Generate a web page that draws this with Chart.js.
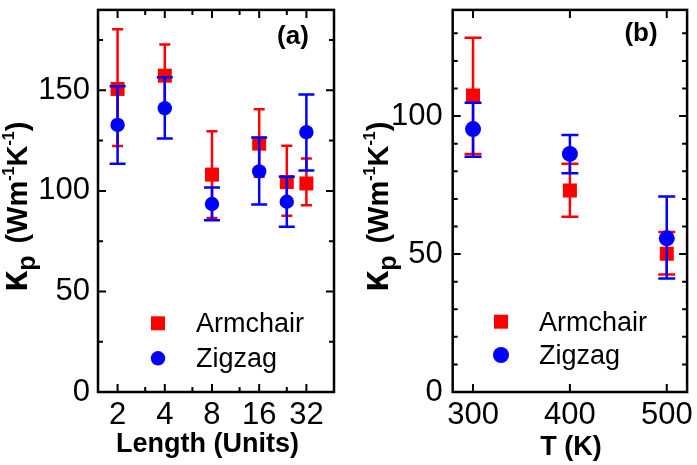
<!DOCTYPE html>
<html>
<head>
<meta charset="utf-8">
<script src="https://cdn.jsdelivr.net/npm/chart.js@4.4.1/dist/chart.umd.min.js"></script>
<style>
  body { margin: 0; background: #fff; }
  #wrap { position: relative; width: 697px; height: 465px; }
  canvas { position: absolute; top: 0; }
</style>
</head>
<body>
<div id="wrap">
  <canvas id="chart-a" style="left:0;width:345px;height:465px"></canvas>
  <canvas id="chart-b" style="left:345px;width:352px;height:465px"></canvas>
</div>
<script>
'use strict';

// ******* DATA (a) : vs length ********
let lengths = [2, 4, 8, 16, 24, 32];
let armchairA = [150.7, 157.3, 108.1, 123.5, 104.4, 103.7];
let armchairAUp = [180.4, 172.8, 129.7, 140.6, 122.4, 116.1];
let armchairALow = [122.3, 142.0, 86.5, 107.0, 87.7, 92.9];
let zigzagA = [132.8, 141.1, 93.5, 109.7, 94.6, 129.2];
let zigzagAUp = [152.0, 156.5, 101.7, 126.5, 107.0, 147.9];
let zigzagALow = [113.5, 126.0, 85.4, 93.2, 82.2, 110.2];

let lengthTicks = [2, 3, 4, 6, 8, 12, 16, 24, 32];
let lengthLabels = [2, 4, 8, 16, 32];
let kappaTicksA = [0, 25, 50, 75, 100, 125, 150, 175];

// ******* DATA (b) : vs temperature ********
let temps = [300, 400, 500];
let armchairB = [107.5, 73.0, 50.1];
let armchairBUp = [128.4, 82.7, 58.0];
let armchairBLow = [86.3, 63.5, 42.6];
let zigzagB = [95.3, 86.3, 55.7];
let zigzagBUp = [104.8, 93.2, 70.9];
let zigzagBLow = [85.3, 79.3, 41.1];

let tempTicks = [300, 400, 500];
let kappaTicksB = [0, 10, 20, 30, 40, 50, 60, 70, 80, 90, 100, 110, 120, 130];

let seriesNames = ['Armchair', 'Zigzag'];

const FONT = '"Liberation Sans", Arial, sans-serif';
const RED = '#ff0000';
const BLUE = '#0000ff';

// ****** PLUGIN: error bars, frame, inward ticks, titles, legend ******
const panelDecor = {
  id: 'panelDecor',
  beforeDatasetDraw(chart, args) {
    let ds = chart.data.datasets[args.index];
    let ctx = chart.ctx;
    let y = chart.scales.y;
    ctx.save();
    ctx.strokeStyle = ds.borderColor;
    ctx.lineWidth = 2.5;
    args.meta.data.forEach((pt, i) => {
      let top = y.getPixelForValue(ds.errUp[i]);
      let bot = y.getPixelForValue(ds.errLow[i]);
      let half = ds.capWidth / 2;
      ctx.beginPath();
      ctx.moveTo(pt.x, top); ctx.lineTo(pt.x, bot);
      ctx.moveTo(pt.x - half, top); ctx.lineTo(pt.x + half, top);
      ctx.moveTo(pt.x - half, bot); ctx.lineTo(pt.x + half, bot);
      ctx.stroke();
    });
    ctx.restore();
  },
  afterDraw(chart, args, opts) {
    let ctx = chart.ctx;
    let area = chart.chartArea;
    let xs = chart.scales.x;
    let ys = chart.scales.y;
    ctx.save();
    ctx.strokeStyle = '#000';
    ctx.lineWidth = 2.5;
    ctx.strokeRect(area.left, area.top, area.right - area.left, area.bottom - area.top);

    // inward ticks on all four sides
    ctx.lineWidth = 2;
    ctx.beginPath();
    xs.ticks.forEach(t => {
      let px = xs.getPixelForValue(t.value);
      let len = (t.label !== '') ? 8 : 5;
      ctx.moveTo(px, area.bottom); ctx.lineTo(px, area.bottom - len);
      ctx.moveTo(px, area.top); ctx.lineTo(px, area.top + len);
    });
    ys.ticks.forEach(t => {
      let py = ys.getPixelForValue(t.value);
      let len = (t.label !== '') ? 8 : 5;
      ctx.moveTo(area.left, py); ctx.lineTo(area.left + len, py);
      ctx.moveTo(area.right, py); ctx.lineTo(area.right - len, py);
    });
    ctx.stroke();

    ctx.fillStyle = '#000';
    // y title with sub / superscripts
    ctx.save();
    ctx.translate(opts.yTitleX, opts.yTitleY);
    ctx.rotate(-Math.PI / 2);
    ctx.textBaseline = 'alphabetic';
    ctx.textAlign = 'left';
    let pieces = [
      ['κ', 38, 0, 0], ['p', 25, 8, 12], ['(Wm', 29, 0, 0], ['-1', 16, -13, 0],
      ['K', 29, 0, 0], ['-1', 16, -13, 0], [')', 29, 0, 0]
    ];
    let cx = 0;
    pieces.forEach(p => {
      ctx.font = 'bold ' + p[1] + 'px ' + FONT;
      ctx.fillText(p[0], cx, p[2]);
      cx += ctx.measureText(p[0]).width + p[3];
    });
    ctx.restore();

    // x title
    ctx.font = 'bold 27px ' + FONT;
    ctx.textAlign = 'center';
    ctx.textBaseline = 'alphabetic';
    ctx.fillText(opts.xTitle, opts.xTitleX, opts.xTitleY);

    // panel label
    ctx.font = 'bold 26px ' + FONT;
    ctx.fillText(opts.panel, opts.panelX, opts.panelY);

    // legend
    ctx.textAlign = 'left';
    ctx.font = '27px ' + FONT;
    chart.data.datasets.forEach((ds, i) => {
      let ly = opts.legendY[i];
      ctx.fillStyle = ds.backgroundColor;
      Chart.helpers.drawPoint(ctx, {
        pointStyle: ds.pointStyle, radius: ds.pointRadius, borderWidth: 0, rotation: 0
      }, opts.legendX, ly);
      ctx.fillStyle = '#000';
      ctx.fillText(ds.label, opts.legendTextX, ly + 9);
    });
    ctx.restore();
  }
};

function makeDataset(name, xVals, yVals, up, low, color, style, radius, cap, order) {
  return {
    label: name,
    data: xVals.map((x, i) => ({ x: x, y: yVals[i] })),
    errUp: up,
    errLow: low,
    capWidth: cap,
    backgroundColor: color,
    borderColor: color,
    pointStyle: style,
    pointRadius: radius,
    pointBorderWidth: 0,
    showLine: false,
    order: order
  };
}

function tickFont() {
  return { family: FONT, size: 31 };
}

// ***** PANEL (a) *****
new Chart(document.getElementById('chart-a'), {
  type: 'scatter',
  data: {
    datasets: [
      makeDataset(seriesNames[0], lengths, armchairA, armchairAUp, armchairALow, RED, 'rect', 9.9, 11, 2),
      makeDataset(seriesNames[1], lengths, zigzagA, zigzagAUp, zigzagALow, BLUE, 'circle', 7.2, 16, 1)
    ]
  },
  options: {
    responsive: false,
    animation: false,
    events: [],
    layout: { padding: { left: 0, right: 11, top: 3, bottom: 0 } },
    plugins: {
      legend: { display: false },
      tooltip: { enabled: false },
      panelDecor: {
        yTitleX: 26.5, yTitleY: 292,
        xTitle: 'Length (Units)', xTitleX: 207.5, xTitleY: 452,
        panel: '(a)', panelX: 293, panelY: 44,
        legendX: 158, legendY: [323.3, 358.3], legendTextX: 196
      }
    },
    scales: {
      x: {
        type: 'logarithmic',
        min: 1.5,
        max: 48,
        afterBuildTicks: s => { s.ticks = lengthTicks.map(v => ({ value: v })); },
        afterFit: s => { s.height = 73; s.paddingLeft = 0; s.paddingRight = 0; },
        ticks: {
          callback: v => lengthLabels.includes(v) ? String(v) : '',
          autoSkip: false, maxRotation: 0, color: '#000', padding: 5, font: tickFont()
        },
        grid: { display: false, drawTicks: false },
        border: { display: false }
      },
      y: {
        min: 0,
        max: 190,
        afterBuildTicks: s => { s.ticks = kappaTicksA.map(v => ({ value: v })); },
        afterFit: s => { s.width = 98; s.paddingTop = 0; s.paddingBottom = 0; },
        ticks: {
          callback: v => v % 50 === 0 ? String(v) : '',
          autoSkip: false, color: '#000', padding: 8, font: tickFont()
        },
        grid: { display: false, drawTicks: false },
        border: { display: false }
      }
    }
  },
  plugins: [panelDecor]
});

// ***** PANEL (b) *****
new Chart(document.getElementById('chart-b'), {
  type: 'scatter',
  data: {
    datasets: [
      makeDataset(seriesNames[0], temps, armchairB, armchairBUp, armchairBLow, RED, 'rect', 9.9, 17, 2),
      makeDataset(seriesNames[1], temps, zigzagB, zigzagBUp, zigzagBLow, BLUE, 'circle', 8, 17, 1)
    ]
  },
  options: {
    responsive: false,
    animation: false,
    events: [],
    layout: { padding: { left: 0, right: 7.7, top: 3, bottom: 0 } },
    plugins: {
      legend: { display: false },
      tooltip: { enabled: false },
      panelDecor: {
        yTitleX: 43, yTitleY: 292,
        xTitle: 'T (K)', xTitleX: 226, xTitleY: 455,
        panel: '(b)', panelX: 296, panelY: 41,
        legendX: 156, legendY: [321.7, 355], legendTextX: 194
      }
    },
    scales: {
      x: {
        type: 'linear',
        min: 279,
        max: 521,
        afterBuildTicks: s => { s.ticks = tempTicks.map(v => ({ value: v })); },
        afterFit: s => { s.height = 73; s.paddingLeft = 0; s.paddingRight = 0; },
        ticks: {
          callback: v => String(v),
          autoSkip: false, maxRotation: 0, color: '#000', padding: 5, font: tickFont()
        },
        grid: { display: false, drawTicks: false },
        border: { display: false }
      },
      y: {
        min: 0,
        max: 138.5,
        afterBuildTicks: s => { s.ticks = kappaTicksB.map(v => ({ value: v })); },
        afterFit: s => { s.width = 107.7; s.paddingTop = 0; s.paddingBottom = 0; },
        ticks: {
          callback: v => v % 50 === 0 ? String(v) : '',
          autoSkip: false, color: '#000', padding: 10, font: tickFont()
        },
        grid: { display: false, drawTicks: false },
        border: { display: false }
      }
    }
  },
  plugins: [panelDecor]
});
</script>
</body>
</html>
